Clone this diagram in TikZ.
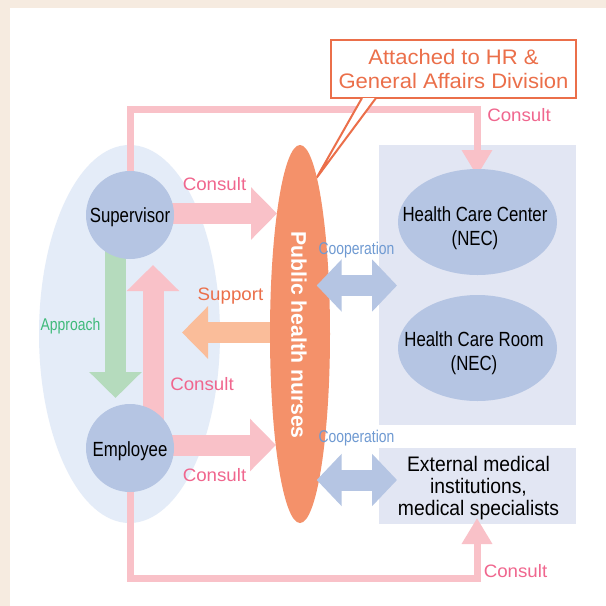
\documentclass[tikz,border=0pt]{standalone}
\usepackage{fontspec}
\setmainfont{Liberation Sans}
\newfontfamily\narrowfont[FakeStretch=0.82]{Liberation Sans}
\newfontfamily\extfont[FakeStretch=0.92]{Liberation Sans}
\newfontfamily\wideishfont[FakeStretch=1.04]{Liberation Sans}
\newfontfamily\callfont[FakeStretch=1.05]{Liberation Sans}
\usetikzlibrary{arrows.meta,shapes.geometric}
\definecolor{bgbeige}{HTML}{F6EBE0}
\definecolor{pinkarrow}{HTML}{F9C1C8}
\definecolor{greenarrow}{HTML}{B5DBBD}
\definecolor{peacharrow}{HTML}{FABD9A}
\definecolor{bluearrow}{HTML}{B5C5E3}
\definecolor{halo}{HTML}{E4ECF8}
\definecolor{panel}{HTML}{E2E6F3}
\definecolor{nursecol}{HTML}{F4916A}
\definecolor{callcol}{HTML}{EB6F4A}
\definecolor{consultcol}{HTML}{F0668E}
\definecolor{approachcol}{HTML}{3FBA7A}
\definecolor{coopcol}{HTML}{6F9AD2}
\tikzset{
  x=1pt,y=-1pt,
  bigarrow/.style={line width=21pt,-{Triangle[length=26pt,width=51pt]}},
  framearrow/.style={draw=pinkarrow,line width=7pt,line join=miter,-{Triangle[length=26pt,width=29pt]}},
  coop/.style={draw=bluearrow,line width=21pt,{Triangle[length=25pt,width=51pt]}-{Triangle[length=25pt,width=51pt]}},
  person/.style={circle,fill=bluearrow,minimum size=88pt,inner sep=0pt,outer sep=0pt,text=black,font=\narrowfont\fontsize{20.5}{24}\selectfont,text depth=0pt},
  site/.style={ellipse,fill=bluearrow,minimum width=159pt,minimum height=106pt,inner sep=0pt,outer sep=0pt},
  body/.style={align=center,inner sep=0pt,text=black,font=\narrowfont\fontsize{20.5}{24.3}\selectfont},
  lab/.style={anchor=base,inner sep=0pt,font=\wideishfont\fontsize{18}{20}\selectfont},
  labn/.style={anchor=base,inner sep=0pt,font=\narrowfont\fontsize{17}{20}\selectfont},
}
\begin{document}
\begin{tikzpicture}
\useasboundingbox (0,0) rectangle (606,606);
\fill[bgbeige] (0,0) rectangle (606,606);
\fill[white] (10,8) rectangle (606,606);
% panels and halo
\node[ellipse,fill=halo,minimum width=181pt,minimum height=378pt,inner sep=0pt] (halo) at (129.5,334) {};
\fill[panel] (379,145) rectangle (576,425);
\node[rectangle,fill=panel,minimum width=197pt,minimum height=76pt,inner sep=0pt] (extbox) at (477.5,486) {};
% arrow end points
\coordinate (t1) at (277,213.5);
\coordinate (t2) at (153,265);
\coordinate (t3) at (115.5,398);
\coordinate (t4) at (182,332.5);
\coordinate (t5) at (276,445);
\coordinate (t6) at (477,176);
\coordinate (m6) at (477,109);
\coordinate (t7) at (477,518);
\coordinate (m7) at (477,578);
\coordinate (c1a) at (316.7,285.5);
\coordinate (c1b) at (397,285.5);
\coordinate (c2a) at (316.7,480);
\coordinate (c2b) at (397,480);
\coordinate (ptip) at (316.7,177.7);
\coordinate (sup0) at (130,215);
\coordinate (emp0) at (130,448);
\coordinate (nur0) at (300,334);
% frame connectors
\draw[framearrow] (sup0) |- (m6) -- (t6);
\draw[framearrow] (emp0) |- (m7) -- (t7);
% callout
\node[draw=callcol,line width=2pt,fill=white,minimum width=245pt,minimum height=58pt,inner sep=0pt,outer sep=0pt,align=center,text=callcol,font=\callfont\fontsize{21}{24}\selectfont] (call) at (453.5,69) {Attached to HR \&\\General Affairs Division};
\draw[callcol,line width=2pt,fill=white] ([xshift=31pt]call.south west) -- (ptip) -- ([xshift=45pt]call.south west);
% block arrows
\draw[bigarrow,draw=greenarrow] (t3 |- sup0) -- (t3);
\draw[bigarrow,draw=pinkarrow] (t2 |- emp0) -- (t2);
\draw[bigarrow,draw=pinkarrow] (sup0 |- t1) -- (t1);
\draw[bigarrow,draw=pinkarrow] (emp0 |- t5) -- (t5);
\draw[bigarrow,draw=peacharrow] (nur0 |- t4) -- (t4);
% nodes
\node[person,text height=15.4pt] (sup) at (sup0) {Supervisor};
\node[person,text height=17.4pt] (emp) at (emp0) {Employee};
\node[ellipse,fill=nursecol,minimum width=60pt,minimum height=378pt,inner sep=0pt] (nurse) at (nur0) {};
\node[rotate=-90,text=white,inner sep=0pt,font=\bfseries\fontsize{21.2}{24}\selectfont] (nursetxt) at (299,335) {Public health nurses};
\node[site] (hcc) at (477.5,222) {};
\node[site] (hcr) at (477.5,348) {};
\node[body] (hcct) at (475,228) {Health Care Center\\(NEC)};
\node[body] (hcrt) at (474,353) {Health Care Room\\(NEC)};
\node[body,font=\extfont\fontsize{21}{22.4}\selectfont] (extt) at (478.5,488) {External medical\\institutions,\\medical specialists};
% cooperation
\draw[coop] (c1a) -- (c1b);
\draw[coop] (c2a) -- (c2b);
% labels
\node[lab,text=consultcol] (l1) at (519,121) {Consult};
\node[lab,text=consultcol] (l2) at (214.5,190.7) {Consult};
\node[lab,text=callcol] (l3) at (230.5,300.7) {Support};
\node[lab,text=consultcol] (l4) at (202,390.7) {Consult};
\node[lab,text=consultcol] (l5) at (214.5,481) {Consult};
\node[lab,text=consultcol] (l6) at (515.5,577) {Consult};
\node[labn,text=approachcol] (l7) at (70.5,330) {Approach};
\node[labn,text=coopcol] (l8) at (356.5,254) {Cooperation};
\node[labn,text=coopcol] (l9) at (356.5,442) {Cooperation};
\end{tikzpicture}
\end{document}
